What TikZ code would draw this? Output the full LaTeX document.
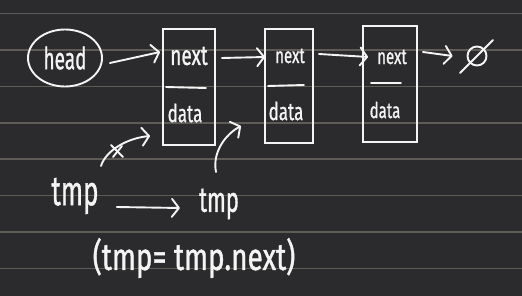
\documentclass[tikz,border=0pt]{standalone}
\usepackage{fontspec}
\setmainfont{Fira Sans}[FakeBold=1.2]
\usetikzlibrary{arrows.meta,shapes.geometric}
\definecolor{bg}{HTML}{2B2B2D}
\definecolor{rulecol}{HTML}{5F5B56}
\definecolor{ink}{HTML}{F4F4F4}
\newcommand{\hw}[2][1.45]{\scalebox{1}[#1]{#2}}
\begin{document}
\begin{tikzpicture}[x=1pt,y=-1pt,
  inkline/.style={draw=ink, line width=1.9pt, line cap=round, line join=round},
  conn/.style={inkline, -{Straight Barb[length=7pt,width=18pt,round]}},
  cell/.style={draw=ink, line width=1.9pt, minimum height=116pt, inner sep=0pt},
  lbl/.style={text=ink, inner sep=0pt, font=\fontsize{17}{20}\selectfont},
]
\fill[bg] (0,0) rectangle (522,296);
\useasboundingbox (0,0) rectangle (522,296);
\foreach \yy in {13.5,50,86.5,123,159,195.5,232,268.5}
  \draw[rulecol, line width=1.8pt] (0,\yy) -- (522,\yy);

% head
\node[ellipse, draw=ink, line width=1.9pt, minimum width=74pt, minimum height=57pt, inner sep=0pt,
      text=ink, font=\fontsize{19}{22}\selectfont] (head) at (65,58) {\hw[1.6]{head}};

% list cells
\node[cell, minimum width=52pt] (b1) at (189,87) {};
\node[cell, minimum width=48pt, minimum height=114pt] (b2) at (289,86) {};
\node[cell, minimum width=54pt] (b3) at (390,84) {};
\draw[inkline] (166,87) -- (206,88);
\draw[inkline] (268,86) -- (304,85);
\draw[inkline] (371,83) -- (401,83);

\node[lbl, font=\fontsize{19}{22}\selectfont] (n1) at (189,56) {\hw{next}};
\node[lbl] (d1) at (185,113) {\hw{data}};
\node[lbl, font=\fontsize{15}{18}\selectfont] (n2) at (290,56) {\hw{next}};
\node[lbl] (d2) at (286,111) {\hw{data}};
\node[lbl, font=\fontsize{15}{18}\selectfont] (n3) at (392,57) {\hw{next}};
\node[lbl, font=\fontsize{15}{18}\selectfont] (d3) at (385,110) {\hw{data}};

% null
\node[circle, draw=ink, line width=1.9pt, minimum size=19pt, inner sep=0pt] (null) at (477,56) {};
\draw[inkline] (460,73) -- (493,40);

% connectors
\draw[conn] ([xshift=7pt,yshift=-5pt]head.east) -- ([xshift=-2pt,yshift=35pt]b1.west);
\draw[conn] ([xshift=6pt,yshift=29pt]b1.east) -- ([xshift=1pt,yshift=29pt]b2.west);
\draw[conn] ([xshift=5pt,yshift=32pt]b2.east) -- ([xshift=6pt,yshift=27pt]b3.west);
\draw[conn] ([xshift=5pt,yshift=32pt]b3.east) -- ([xshift=-14pt]null.west);

% tmp
\node[lbl, font=\fontsize{26}{30}\selectfont] (tmpa) at (75,196) {\hw[1.6]{tmp}};
\node[lbl, font=\fontsize{22}{26}\selectfont] (tmpb) at (219,204) {\hw[1.6]{tmp}};
\draw[conn] ([xshift=18pt,yshift=-11pt]tmpa.east) -- ([xshift=-19pt,yshift=-4pt]tmpb.west);

\coordinate (c1s) at (101,166);
\coordinate (c1e) at (150,136);
\draw[conn] (c1s) .. controls (106,150) and (128,138) .. (c1e);
\draw[inkline] (111,145) -- (123,157);
\draw[inkline] (113,157) -- (122,146);

\coordinate (c2s) at (216,172);
\coordinate (c2e) at (241,126);
\draw[conn] (c2s) .. controls (212,152) and (226,134) .. (c2e);

\node[lbl, font=\fontsize{28}{32}\selectfont] (eq) at (194,258) {\hw[1.35]{(tmp= tmp.next)}};
\end{tikzpicture}
\end{document}
